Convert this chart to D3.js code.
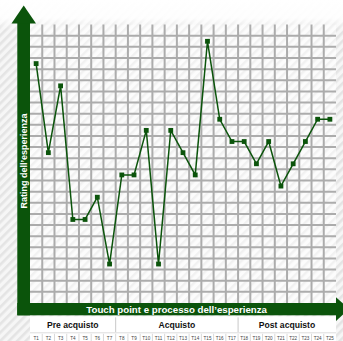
<!DOCTYPE html>
<html><head><meta charset="utf-8">
<script src="https://cdn.jsdelivr.net/npm/d3@7"></script>
<style>html,body{margin:0;padding:0;background:#fff;overflow:hidden}svg{display:block}</style>
</head><body>
<script>
const touchPoints = ["T1","T2","T3","T4","T5","T6","T7","T8","T9","T10","T11","T12","T13","T14","T15","T16","T17","T18","T19","T20","T21","T22","T23","T24","T25"];
const ratings = [22,14,20,8,8,10,4,12,12,16,4,16,14,12,24,17,15,15,13,15,11,13,15,17,17];
const ratingLevels = d3.range(1, 26);
const phases = ["Pre acquisto","Acquisto","Post acquisto"];
const phaseStart = ["T1","T8","T18"];
const phaseEnd = ["T7","T17","T25"];
const xTitle = "Touch point e processo dell’esperienza";
const yTitle = "Rating dell’esperienza";

const W = 343, H = 341;
const green = "#0b540b";
const svg = d3.select("body").append("svg").attr("width", W).attr("height", H);
const defs = svg.append("defs");

const p1 = defs.append("pattern").attr("id","bgStripe").attr("patternUnits","userSpaceOnUse")
  .attr("width",6).attr("height",6).attr("patternTransform","rotate(45)");
p1.append("rect").attr("width",6).attr("height",6).attr("fill","#f6f6f6");
p1.append("rect").attr("width",2.6).attr("height",6).attr("fill","#e4e4e4");
const p2 = defs.append("pattern").attr("id","gridStripe").attr("patternUnits","userSpaceOnUse")
  .attr("width",6).attr("height",6).attr("patternTransform","rotate(45)");
p2.append("rect").attr("width",6).attr("height",6).attr("fill","#fcfcfc");
p2.append("rect").attr("width",2.4).attr("height",6).attr("fill","#f1f1f1");
const fade = defs.append("linearGradient").attr("id","topFade").attr("x1",0).attr("y1",0).attr("x2",0).attr("y2",1);
fade.append("stop").attr("offset","0").attr("stop-color","#fff").attr("stop-opacity",1);
fade.append("stop").attr("offset","0.6").attr("stop-color","#fff").attr("stop-opacity",0.9);
fade.append("stop").attr("offset","1").attr("stop-color","#fff").attr("stop-opacity",0);

svg.append("rect").attr("width",W).attr("height",H).attr("fill","url(#bgStripe)");
svg.append("rect").attr("width",W).attr("height",30).attr("fill","url(#topFade)");

const x0 = 30, x1 = 336, y0 = 24.6, y1 = 303;
const x = d3.scaleBand().domain(touchPoints).range([x0, x1]);
const y = d3.scaleBand().domain(ratingLevels).range([y1, y0]);

// grid background
svg.append("rect").attr("x",x0).attr("y",y0).attr("width",x1-x0).attr("height",y1-y0).attr("fill","url(#gridStripe)");
const grid = svg.append("g").attr("stroke","#acacac").attr("stroke-width",2);
grid.selectAll("line.v").data(touchPoints.slice(1)).join("line")
  .attr("x1", d => x(d)).attr("x2", d => x(d)).attr("y1", y0).attr("y2", y1);
grid.selectAll("line.h").data(ratingLevels.slice(0, -1)).join("line")
  .attr("x1", x0).attr("x2", x1).attr("y1", d => y(d)).attr("y2", d => y(d));

// axes arrows
svg.append("rect").attr("x",17.3).attr("y",23).attr("width",x0-17.3).attr("height",315.3-23).attr("fill",green);
svg.append("rect").attr("x",17.3).attr("y",y1).attr("width",x1-17.3).attr("height",315.3-y1).attr("fill",green);
svg.append("polygon").attr("points","11.5,23.6 36,23.6 23.7,5.5").attr("fill",green);
svg.append("polygon").attr("points",`${x1},297.2 ${x1},321 349,309`).attr("fill",green);

svg.append("text").attr("x", (17.3 + x1)/2).attr("y", 313.2)
  .attr("text-anchor","middle").attr("fill","#fff")
  .attr("font-family","Liberation Sans, Arial, sans-serif").attr("font-weight","bold").attr("font-size",9.7)
  .text(xTitle);
svg.append("text").attr("transform","translate(27,161) rotate(-90)")
  .attr("text-anchor","middle").attr("fill","#fff")
  .attr("font-family","Liberation Sans, Arial, sans-serif").attr("font-weight","bold").attr("font-size",9)
  .text(yTitle);

// table
const tY0 = 316.3, tY1 = 332.3;
svg.append("rect").attr("x",x0).attr("y",tY0).attr("width",x1-x0).attr("height",H-tY0).attr("fill","#fff");
const tbl = svg.append("g");
phases.forEach((p, i) => {
  const a = x(phaseStart[i]), b = x(phaseEnd[i]) + x.bandwidth();
  tbl.append("text").attr("x",(a+b)/2).attr("y",328.3).attr("text-anchor","middle")
    .attr("font-family","Liberation Sans, Arial, sans-serif").attr("font-weight","bold").attr("font-size",8.6)
    .attr("fill","#111").text(p);
  if (i > 0) tbl.append("line").attr("x1",a).attr("x2",a).attr("y1",tY0+1).attr("y2",tY1)
    .attr("stroke","#c8c8c8").attr("stroke-width",1);
});
tbl.append("line").attr("x1",x0).attr("x2",x1).attr("y1",tY1+0.5).attr("y2",tY1+0.5).attr("stroke","#dddddd");
tbl.selectAll("line.c").data(touchPoints.slice(1)).join("line")
  .attr("x1", d => x(d)).attr("x2", d => x(d)).attr("y1", tY1+1.5).attr("y2", H)
  .attr("stroke","#cfcfcf").attr("stroke-width",0.8);
tbl.selectAll("text.t").data(touchPoints).join("text")
  .attr("x", d => x(d) + x.bandwidth()/2).attr("y", 339.5).attr("text-anchor","middle")
  .attr("font-family","Liberation Sans, Arial, sans-serif").attr("font-size",4.6).attr("fill","#444")
  .text(d => d);

// line and markers
const cx = (d, i) => x(touchPoints[i]) + x.bandwidth()/2;
const cy = d => y(d) + y.bandwidth()/2;
svg.append("path").datum(ratings)
  .attr("d", d3.line().x(cx).y(cy))
  .attr("fill","none").attr("stroke",green).attr("stroke-width",1.5);
const ms = 4.8;
svg.selectAll("rect.m").data(ratings).join("rect")
  .attr("x", (d, i) => cx(d, i) - ms/2).attr("y", d => cy(d) - ms/2)
  .attr("width", ms).attr("height", ms).attr("fill", green);
</script>
</body></html>
